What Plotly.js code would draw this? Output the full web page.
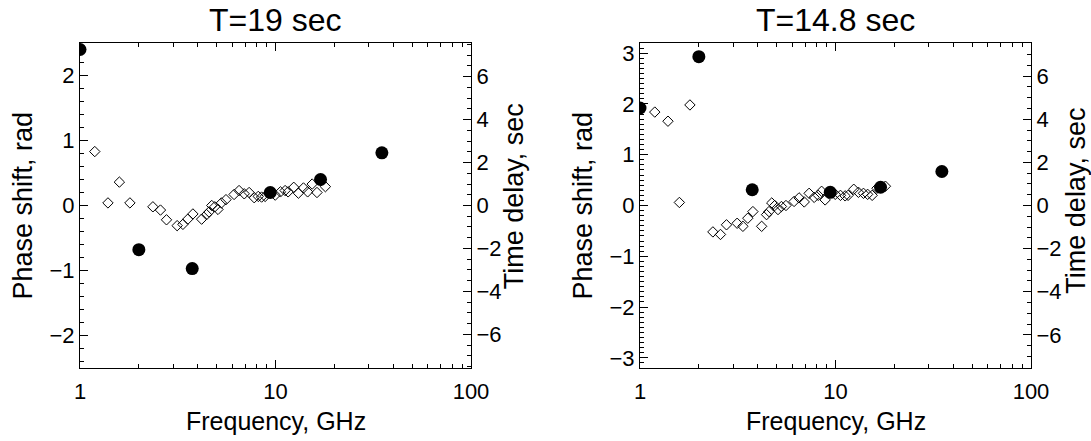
<!DOCTYPE html>
<html>
<head>
<meta charset="utf-8">
<script src="https://cdn.plot.ly/plotly-3.0.1.min.js"></script>
<style>html,body{margin:0;padding:0;background:#fff;}#chart{width:1091px;height:441px;}</style>
</head>
<body>
<div id="chart"></div>
<script>
// Burst (filled circle) frequencies, GHz
const freqBursts = [1, 2, 3.75, 9.4, 17, 35];
const phaseBurstsLeft = [2.40, -0.68, -0.97, 0.20, 0.40, 0.81];
const phaseBurstsRight = [1.92, 2.93, 0.31, 0.26, 0.36, 0.67];

// Spectrometer (open diamond) frequencies, GHz
const freqSpec = [1.19, 1.39, 1.59, 1.80, 2.36, 2.58, 2.77, 3.14, 3.36, 3.56, 3.78,
  4.19, 4.44, 4.57, 4.72, 4.89, 5.08, 5.29, 5.58,
  6.14, 6.51, 6.92, 7.33, 7.78, 8.16, 8.49, 8.85,
  9.97, 10.6, 11.2, 11.6, 12.4, 13.1, 13.9, 14.6, 15.4, 16.3, 18.0];
const phaseSpecLeft = [0.83, 0.04, 0.36, 0.04, -0.02, -0.07, -0.22, -0.31, -0.29, -0.21, -0.13,
  -0.21, -0.14, -0.10, 0.00, -0.02, -0.06, 0.04, 0.09,
  0.17, 0.23, 0.18, 0.20, 0.12, 0.14, 0.13, 0.14,
  0.16, 0.21, 0.23, 0.21, 0.28, 0.19, 0.27, 0.21, 0.33, 0.20, 0.29];
const phaseSpecRight = [1.84, 1.66, 0.06, 1.98, -0.52, -0.57, -0.38, -0.35, -0.41, -0.25, -0.12,
  -0.41, -0.18, -0.12, 0.05, 0.00, -0.08, -0.02, 0.00,
  0.08, 0.15, 0.07, 0.24, 0.16, 0.20, 0.28, 0.11,
  0.22, 0.20, 0.19, 0.20, 0.32, 0.26, 0.24, 0.22, 0.20, 0.34, 0.38];

const panelTitles = ['T=19 sec', 'T=14.8 sec'];
const periods = [19, 14.8];
const phaseRanges = [2.5, 3.2];
const xTickVals = [1, 10, 100];
const xTickText = ['1', '10', '100'];
const xMinorVals = [2,3,4,5,6,7,8,9,20,30,40,50,60,70,80,90];

const FONT = 'Liberation Sans, Arial, Helvetica, sans-serif';

const diamond = {symbol: 'diamond-open', size: 8, color: 'black', line: {color: 'black', width: 1}};
const circle = {symbol: 'circle', size: 13, color: 'black'};

const traces = [
  {x: freqSpec, y: phaseSpecLeft, xaxis: 'x', yaxis: 'y', mode: 'markers', marker: diamond, type: 'scatter', showlegend: false},
  {x: freqBursts, y: phaseBurstsLeft, xaxis: 'x', yaxis: 'y', mode: 'markers', marker: circle, type: 'scatter', showlegend: false},
  {x: [], y: [], xaxis: 'x', yaxis: 'y2', mode: 'markers', type: 'scatter', showlegend: false},
  {x: freqSpec, y: phaseSpecRight, xaxis: 'x2', yaxis: 'y3', mode: 'markers', marker: diamond, type: 'scatter', showlegend: false},
  {x: freqBursts, y: phaseBurstsRight, xaxis: 'x2', yaxis: 'y3', mode: 'markers', marker: circle, type: 'scatter', showlegend: false},
  {x: [], y: [], xaxis: 'x2', yaxis: 'y4', mode: 'markers', type: 'scatter', showlegend: false}
];

const yDom = [0.1655, 0.9025];
const tickFont = {family: FONT, size: 22, color: 'black'};

function xAxis(domain, anchor) {
  return {
    type: 'log', domain: domain, anchor: anchor, range: [0, 2],
    tickvals: xTickVals, ticktext: xTickText, ticks: 'inside', ticklen: 8, tickwidth: 1, tickcolor: 'black',
    minor: {tickvals: xMinorVals, ticks: 'inside', ticklen: 4, tickwidth: 1, tickcolor: 'black', showgrid: false},
    showline: true, linecolor: 'black', linewidth: 1, mirror: 'ticks', showgrid: false, zeroline: false,
    tickfont: tickFont, automargin: false, ticklabelstandoff: 4
  };
}
function yLeft(domain, anchor, r, minorStep) {
  return {
    domain: domain, anchor: anchor, range: [-r, r], dtick: 1, ticks: 'inside', ticklen: 8, tickwidth: 1, tickcolor: 'black',
    minor: {dtick: minorStep, ticks: 'inside', ticklen: 4, tickwidth: 1, tickcolor: 'black', showgrid: false},
    showline: true, linecolor: 'black', linewidth: 1, showgrid: false, zeroline: false,
    tickfont: tickFont, automargin: false
  };
}
function yRight(overlay, anchor, r) {
  return {
    overlaying: overlay, anchor: anchor, side: 'right', range: [-r, r], dtick: 2, ticks: 'inside', ticklen: 8, tickwidth: 1, tickcolor: 'black',
    minor: {dtick: 0.5, ticks: 'inside', ticklen: 4, tickwidth: 1, tickcolor: 'black', showgrid: false},
    showline: true, linecolor: 'black', linewidth: 1, showgrid: false, zeroline: false,
    tickfont: tickFont, automargin: false
  };
}

const xL = [80/1091, 471/1091];
const xR = [640/1091, 1031/1091];

function ann(text, x, y, size, angle) {
  return {text: text, x: x, y: y, xref: 'paper', yref: 'paper', showarrow: false,
    xanchor: 'center', yanchor: 'middle', textangle: angle || 0, font: {family: FONT, size: size, color: 'black'}};
}

const yMid = (yDom[0] + yDom[1]) / 2;
const layout = {
  width: 1091, height: 441,
  margin: {l: 0, r: 0, t: 0, b: 0},
  paper_bgcolor: 'white', plot_bgcolor: 'white',
  font: {family: FONT, color: 'black'},
  showlegend: false,
  xaxis: xAxis(xL, 'y'),
  yaxis: yLeft(yDom, 'x', phaseRanges[0], 0.2),
  yaxis2: yRight('y', 'x', phaseRanges[0] * periods[0] / (2 * Math.PI)),
  xaxis2: xAxis(xR, 'y3'),
  yaxis3: yLeft(yDom, 'x2', phaseRanges[1], 0.1),
  yaxis4: yRight('y3', 'x2', phaseRanges[1] * periods[1] / (2 * Math.PI)),
  annotations: [
    ann(panelTitles[0], (xL[0] + xL[1]) / 2, 0.954, 32),
    ann(panelTitles[1], (xR[0] + xR[1]) / 2, 0.954, 32),
    ann('Frequency, GHz', (xL[0] + xL[1]) / 2, 0.046, 25),
    ann('Frequency, GHz', (xR[0] + xR[1]) / 2, 0.046, 25),
    ann('Phase shift, rad', 23/1091, yMid, 27, -90),
    ann('Phase shift, rad', 583/1091, yMid, 27, -90),
    ann('Time delay, sec', 514/1091, 0.555, 27, -90),
    ann('Time delay, sec', 1076/1091, 0.545, 27, -90)
  ]
};

Plotly.newPlot('chart', traces, layout, {staticPlot: true, displayModeBar: false});
</script>
</body>
</html>
